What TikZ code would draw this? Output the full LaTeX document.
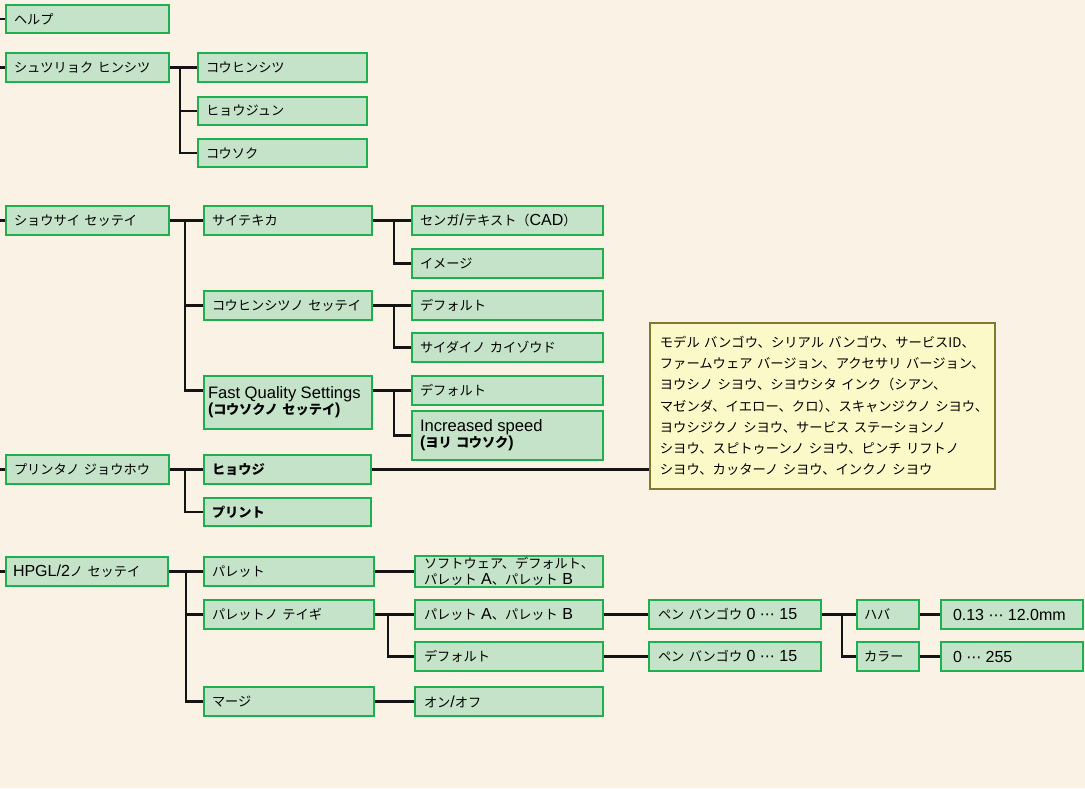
\documentclass[tikz,border=0pt]{standalone}
\usepackage{fontspec}
\setmainfont{Noto Sans CJK JP}
\newfontfamily\latf{Liberation Sans}
\newfontfamily\dvf{DejaVu Sans}
\newcommand\ltn[1]{{\latf\fontsize{16}{18}\selectfont #1}}
\newcommand\ltb[1]{{\latf\fontsize{16.6}{18}\selectfont #1}}
\newcommand\mdt{{\dvf\fontsize{15}{16}\selectfont ⋯}}
\definecolor{bgcol}{HTML}{F9F2E5}
\definecolor{boxfill}{HTML}{C5E3C9}
\definecolor{boxline}{HTML}{1EB050}
\definecolor{notefill}{HTML}{FCF9C8}
\definecolor{noteline}{HTML}{807A30}
\definecolor{lncol}{HTML}{141414}
\tikzset{
  bx/.style={draw=boxline, fill=boxfill, line width=2pt, rectangle, anchor=north west,
    inner ysep=0pt, align=left, font=\fontsize{13.2}{16}\selectfont},
  notebox/.style={draw=noteline, fill=notefill, line width=1.8pt, rectangle, anchor=north west,
    inner ysep=0pt, align=left, font=\fontsize{13.3}{21.2}\selectfont},
  ln/.style={draw=lncol, line width=2.2pt},
}
\newcommand\B[7][8]{%
  \pgfmathsetmacro\bw{#5-#3}%
  \pgfmathsetmacro\bh{#6-#4}%
  \pgfmathsetmacro\tw{#5-#3-2*#1}%
  \node[bx,inner xsep=#1pt,minimum width=\bw pt,minimum height=\bh pt,text width=\tw pt] (#2) at (#3,#4) {#7};}
\begin{document}
\begin{tikzpicture}[x=1pt,y=-1pt]
\fill[bgcol] (0,0) rectangle (1085,788);
\useasboundingbox (0,0) rectangle (1085,788);
\coordinate (lm) at (0,0);
% ---- level 0
\B{help}{5}{4}{168}{32}{ヘルプ}
\B{out}{5}{52}{168}{81}{シュツリョク ヒンシツ}
\B{det}{5}{205}{168}{234}{ショウサイ セッテイ}
\B{prt}{5}{454}{168}{483}{プリンタノ ジョウホウ}
\B[7]{hp}{5}{556}{167}{585}{\ltn{HPGL/2}ノ セッテイ}
% ---- group out
\B{q1}{197}{52}{366}{81}{コウヒンシツ}
\B{q2}{197}{96}{366}{124}{ヒョウジュン}
\B{q3}{197}{138}{366}{166}{コウソク}
% ---- group det
\B{s1}{203}{205}{371}{234}{サイテキカ}
\B{s2}{203}{290}{371}{319}{コウヒンシツノ セッテイ}
\B[4]{s3}{203}{375}{371}{428}{\fontsize{13.2}{17.5}\selectfont\ltb{Fast Quality Settings}\\\textbf{\ltn{(}コウソクノ セッテイ\ltn{)}}}
\B{u1}{411}{205}{602}{234}{センガ\ltn{/}テキスト（\ltn{CAD}）}
\B{u2}{411}{248}{602}{277}{イメージ}
\B{u3}{411}{290}{602}{319}{デフォルト}
\B{u4}{411}{332}{602}{361}{サイダイノ カイゾウド}
\B{u5}{411}{375}{602}{404}{デフォルト}
\B{u6}{411}{410}{602}{459}{\fontsize{13.2}{17}\selectfont\ltb{Increased speed}\\\textbf{\ltn{(}ヨリ コウソク\ltn{)}}}
% ---- group prt
\B{p1}{203}{454}{370}{483}{\textbf{ヒョウジ}}
\B{p2}{203}{497}{370}{525}{\textbf{プリント}}
\node[notebox, minimum width=345pt, minimum height=166pt, inner xsep=10pt, text width=325pt] (note) at (649,322)
{\mbox{モデル バンゴウ、シリアル バンゴウ、サービスID、}\\
\mbox{ファームウェア バージョン、アクセサリ バージョン、}\\
\mbox{ヨウシノ シヨウ、シヨウシタ インク（シアン、}\\
\mbox{マゼンダ、イエロー、クロ）\kern-0.5em、スキャンジクノ シヨウ、}\\
\mbox{ヨウシジクノ シヨウ、サービス ステーションノ}\\
\mbox{シヨウ、スピトゥーンノ シヨウ、ピンチ リフトノ}\\
\mbox{シヨウ、カッターノ シヨウ、インクノ シヨウ}};
% ---- group hp
\B{h1}{203}{556}{373}{585}{パレット}
\B{h2}{203}{599}{373}{628}{パレットノ テイギ}
\B{h3}{203}{686}{373}{715}{マージ}
\B[9]{v1}{414}{555}{602}{586}{\fontsize{13.2}{12}\selectfont ソフトウェア、デフォルト、\\パレット \ltn{A}、パレット \ltn{B}}
\B[9]{v2}{414}{599}{602}{628}{パレット \ltn{A}、パレット \ltn{B}}
\B[9]{v3}{414}{641}{602}{670}{デフォルト}
\B[9]{v4}{414}{686}{602}{715}{オン\ltn{/}オフ}
\B[9]{w1}{648}{599}{820}{628}{ペン バンゴウ \ltn{0} \mdt{} \ltn{15}}
\B[9]{w2}{648}{641}{820}{670}{ペン バンゴウ \ltn{0} \mdt{} \ltn{15}}
\B[7]{x1}{856}{599}{918}{628}{ハバ}
\B[7]{x2}{856}{641}{918}{670}{カラー}
\B[12]{y1}{940}{599}{1082}{628}{\ltn{0.13} \mdt{} \ltn{12.0mm}}
\B[12]{y2}{940}{641}{1082}{670}{\ltn{0} \mdt{} \ltn{255}}
% ---- trunk coordinates
\coordinate (t1) at (180,0);
\coordinate (t2) at (185,0);
\coordinate (t3) at (394,0);
\coordinate (t7) at (186,0);
\coordinate (t8) at (388,0);
\coordinate (t9) at (842,0);
% ---- left ticks
\foreach \n in {help,out,det,prt,hp} \draw[ln] (lm |- \n.west) -- (\n.west);
% ---- connectors out
\draw[ln] (out.east) -- (q1.west);
\draw[ln] (t1 |- out.east) |- (q3.west);
\draw[ln] (t1 |- q2.west) -- (q2.west);
% ---- connectors det
\draw[ln] (det.east) -- (s1.west);
\draw[ln] (t2 |- det.east) |- (s3.west |- u5.west);
\draw[ln] (t2 |- s2.west) -- (s2.west);
\draw[ln] (s1.east) -- (u1.west);
\draw[ln] (t3 |- s1.east) |- (u2.west);
\draw[ln] (s2.east) -- (u3.west);
\draw[ln] (t3 |- s2.east) |- (u4.west);
\draw[ln] (s3.east |- u5.west) -- (u5.west);
\draw[ln] (t3 |- u5.west) |- (u6.west);
% ---- connectors prt
\draw[ln] (prt.east) -- (p1.west);
\draw[ln] (t2 |- prt.east) |- (p2.west);
\draw[ln] (p1.east) -- (p1.east -| note.west);
% ---- connectors hp
\draw[ln] (hp.east) -- (h1.west);
\draw[ln] (t7 |- hp.east) |- (h3.west);
\draw[ln] (t7 |- h2.west) -- (h2.west);
\draw[ln] (h1.east) -- (v1.west);
\draw[ln] (h2.east) -- (v2.west);
\draw[ln] (t8 |- h2.east) |- (v3.west);
\draw[ln] (h3.east) -- (v4.west);
\draw[ln] (v2.east) -- (w1.west);
\draw[ln] (v3.east) -- (w2.west);
\draw[ln] (w1.east) -- (x1.west);
\draw[ln] (t9 |- w1.east) |- (x2.west);
\draw[ln] (x1.east) -- (y1.west);
\draw[ln] (x2.east) -- (y2.west);
\end{tikzpicture}
\end{document}
